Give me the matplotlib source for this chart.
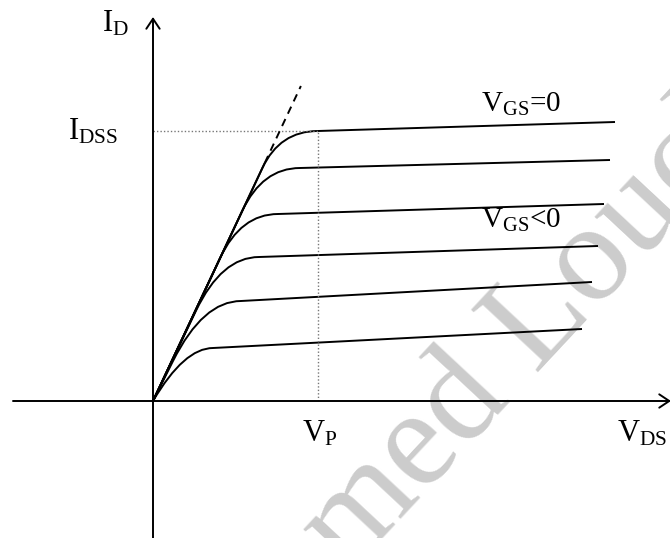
import numpy as np
import matplotlib
matplotlib.use("Agg")
import matplotlib.pyplot as plt
from matplotlib.path import Path
from matplotlib.patches import PathPatch

plt.rcParams['font.family'] = ['Liberation Serif', 'DejaVu Serif']
plt.rcParams['mathtext.fontset'] = 'custom'
plt.rcParams['mathtext.rm'] = 'Liberation Serif'
plt.rcParams['mathtext.it'] = 'Liberation Serif:italic'
plt.rcParams['mathtext.bf'] = 'Liberation Serif:bold'

# output characteristics, one entry per gate voltage (V_GS = 0 first)
knee_x = [165, 147, 125, 106, 88, 60]
knee_y = [270, 233, 187, 144, 100, 53]
end_x = [462, 457, 451, 445, 439, 429]
end_y = [279, 241, 197, 155, 119, 72]
start_slope = [2.13, 2.13, 2.13, 2.1, 2.0, 1.7]
leave_y = [233, 190, 143, 90, 40, 0]   # where each curve leaves its initial slope

# ohmic-region tangent
tangent_slope = 2.13
tangent_solid_top = 238
tangent_dash_top = 315

idss = knee_y[0]
vp = knee_x[0]

fig = plt.figure(figsize=(6.7, 5.38), dpi=100)
ax = fig.add_axes([0, 0, 1, 1])
ax.set_xlim(-153, 517)
ax.set_ylim(-137, 401)
ax.axis('off')

# watermark
ax.text(80, -298, 'Ahmed Louchene', fontsize=100, color='#cccccc',
        rotation=47, rotation_mode='anchor', ha='left', va='baseline', zorder=0)

lw = 1.4
arrow = dict(arrowstyle='->,head_length=0.6,head_width=0.4', lw=lw,
             color='black', shrinkA=0, shrinkB=0, mutation_scale=12)
ax.annotate('', xy=(0, 384), xytext=(0, -137), arrowprops=arrow,
            annotation_clip=False)
ax.annotate('', xy=(518, 0), xytext=(-140, 0), arrowprops=arrow,
            annotation_clip=False)

# I_DSS and V_P guides
ax.plot([0, vp], [idss, idss], color='#777777', lw=1, ls=(0, (1, 1.5)))
ax.plot([vp, vp], [0, idss], color='#777777', lw=1, ls=(0, (1, 1.5)))

# tangent at the origin
ax.plot([0, tangent_solid_top / tangent_slope], [0, tangent_solid_top],
        color='black', lw=lw, solid_capstyle='butt')
ax.plot([tangent_solid_top / tangent_slope, tangent_dash_top / tangent_slope],
        [tangent_solid_top, tangent_dash_top], color='black', lw=lw,
        ls=(0, (4, 3)))

for kx, ky, ex, ey, m, ly in zip(knee_x, knee_y, end_x, end_y,
                                 start_slope, leave_y):
    verts = [(0, 0), (ly / m, ly), (ky / m, ky), (kx, ky), (ex, ey)]
    codes = [Path.MOVETO, Path.LINETO, Path.CURVE3, Path.CURVE3, Path.LINETO]
    ax.add_patch(PathPatch(Path(verts, codes), fill=False, lw=lw,
                           edgecolor='black', capstyle='butt'))

fs = 22
ax.text(-51, 369, r'$\mathrm{I_D}$', fontsize=fs, va='baseline')
ax.text(-85, 261, r'$\mathrm{I_{DSS}}$', fontsize=fs, va='baseline')
ax.text(328, 289, r'$\mathrm{V_{GS}}$=0', fontsize=fs - 1, va='baseline')
ax.text(328, 173, r'$\mathrm{V_{GS}}$<0', fontsize=fs - 1, va='baseline')
ax.text(149, -40, r'$\mathrm{V_P}$', fontsize=fs, va='baseline')
ax.text(464, -41, r'$\mathrm{V_{DS}}$', fontsize=fs, va='baseline')

fig.savefig('out.png', dpi=100)
